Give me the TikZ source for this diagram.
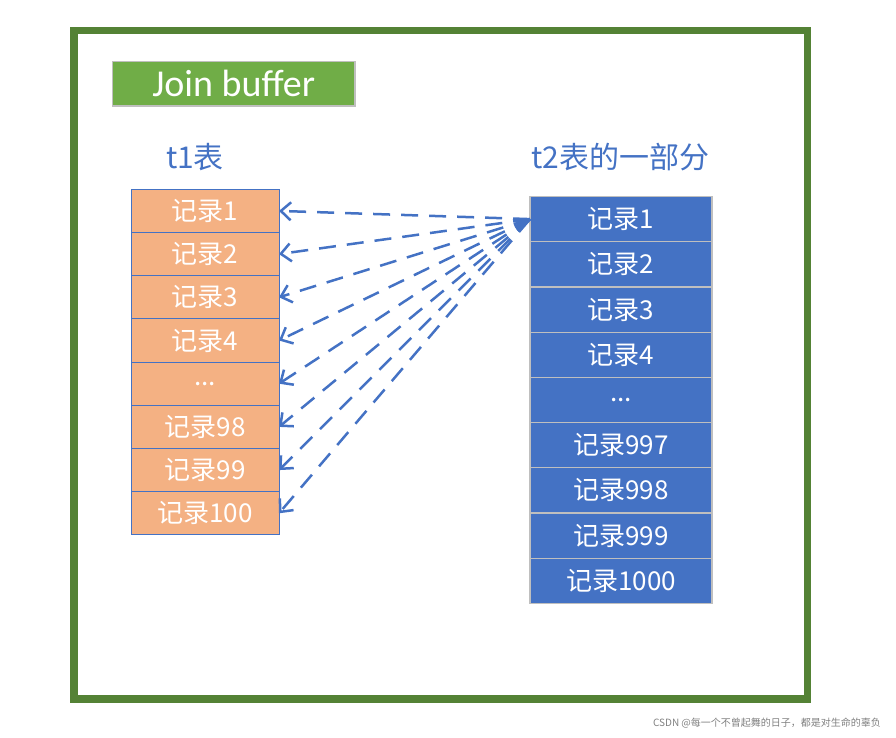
\documentclass[tikz,border=0pt]{standalone}
\usepackage{fontspec}
\setmainfont{Carlito}
\newfontfamily\cjk{Noto Sans CJK SC}
\usetikzlibrary{positioning,arrows.meta}
\definecolor{blu}{HTML}{4472C4}
\definecolor{peach}{HTML}{F4B183}
\definecolor{leaf}{HTML}{70AD47}
\definecolor{moss}{HTML}{548235}
\definecolor{rim}{HTML}{BFBFBF}
\begin{document}
\begin{tikzpicture}[x=1pt, y=-1pt, node distance = {0pt},
	rowa/.style = {draw=blu, line width=1pt, fill=peach, text=white, outer sep=0pt, inner sep=0pt,
		minimum width=148pt, minimum height=43.2pt, font=\cjk\fontsize{26}{30}\selectfont},
	rowb/.style = {draw=rim, line width=1.2pt, fill=blu, text=white, outer sep=0pt, inner sep=0pt,
		minimum width=182pt, minimum height=45.2pt, font=\cjk\fontsize{26}{30}\selectfont},
	title/.style = {text=blu, font=\cjk\fontsize{30}{34}\selectfont},
	link/.style = {blu, line width=2.5pt, dash pattern=on 17pt off 11pt,
		-{Straight Barb[length=10pt, width=18pt, line width=2.5pt]}}]
	\useasboundingbox (0,0) rectangle (896,738);
	\draw[moss, line width=7.8pt] (73.8,30.5) rectangle (807.5,698.8);
	\node[draw=rim, line width=1.2pt, fill=leaf, text=white, minimum width=242.7pt, minimum height=44.7pt,
		font=\fontsize{38}{42}\selectfont] (jb) at (233.7,83.7) {Join buffer};
	\node[title] (t1) at (195,157) {t1表};
	\node[title] (t2) at (620.5,157) {t2表的一部分};
	% t1 rows
	\node[rowa] (a1) at (205,210.9) {记录1};
	\node[rowa] (a2) [below=of a1] {记录2};
	\node[rowa] (a3) [below=of a2] {记录3};
	\node[rowa] (a4) [below=of a3] {记录4};
	\node[rowa] (a5) [below=of a4] {...};
	\node[rowa] (a6) [below=of a5] {记录98};
	\node[rowa] (a7) [below=of a6] {记录99};
	\node[rowa] (a8) [below=of a7] {记录100};
	% t2 rows
	\node[rowb] (b1) at (621,219.1) {记录1};
	\node[rowb] (b2) [below=of b1] {记录2};
	\node[rowb] (b3) [below=of b2] {记录3};
	\node[rowb] (b4) [below=of b3] {记录4};
	\node[rowb] (b5) [below=of b4] {...};
	\node[rowb] (b6) [below=of b5] {记录997};
	\node[rowb] (b7) [below=of b6] {记录998};
	\node[rowb] (b8) [below=of b7] {记录999};
	\node[rowb] (b9) [below=of b8] {记录1000};
	% one t2 row against every t1 row
	\draw[link] (b1.west) -- (a1.east);
	\draw[link] (b1.west) -- (a2.east);
	\draw[link] (b1.west) -- (a3.east);
	\draw[link] (b1.west) -- (a4.east);
	\draw[link] (b1.west) -- (a5.east);
	\draw[link] (b1.west) -- (a6.east);
	\draw[link] (b1.west) -- (a7.east);
	\draw[link] (b1.west) -- (a8.east);
	\node[text=gray, font=\cjk\fontsize{10}{12}\selectfont] (mark) at (767,723) {CSDN @每一个不曾起舞的日子，都是对生命的辜负};
\end{tikzpicture}
\end{document}
